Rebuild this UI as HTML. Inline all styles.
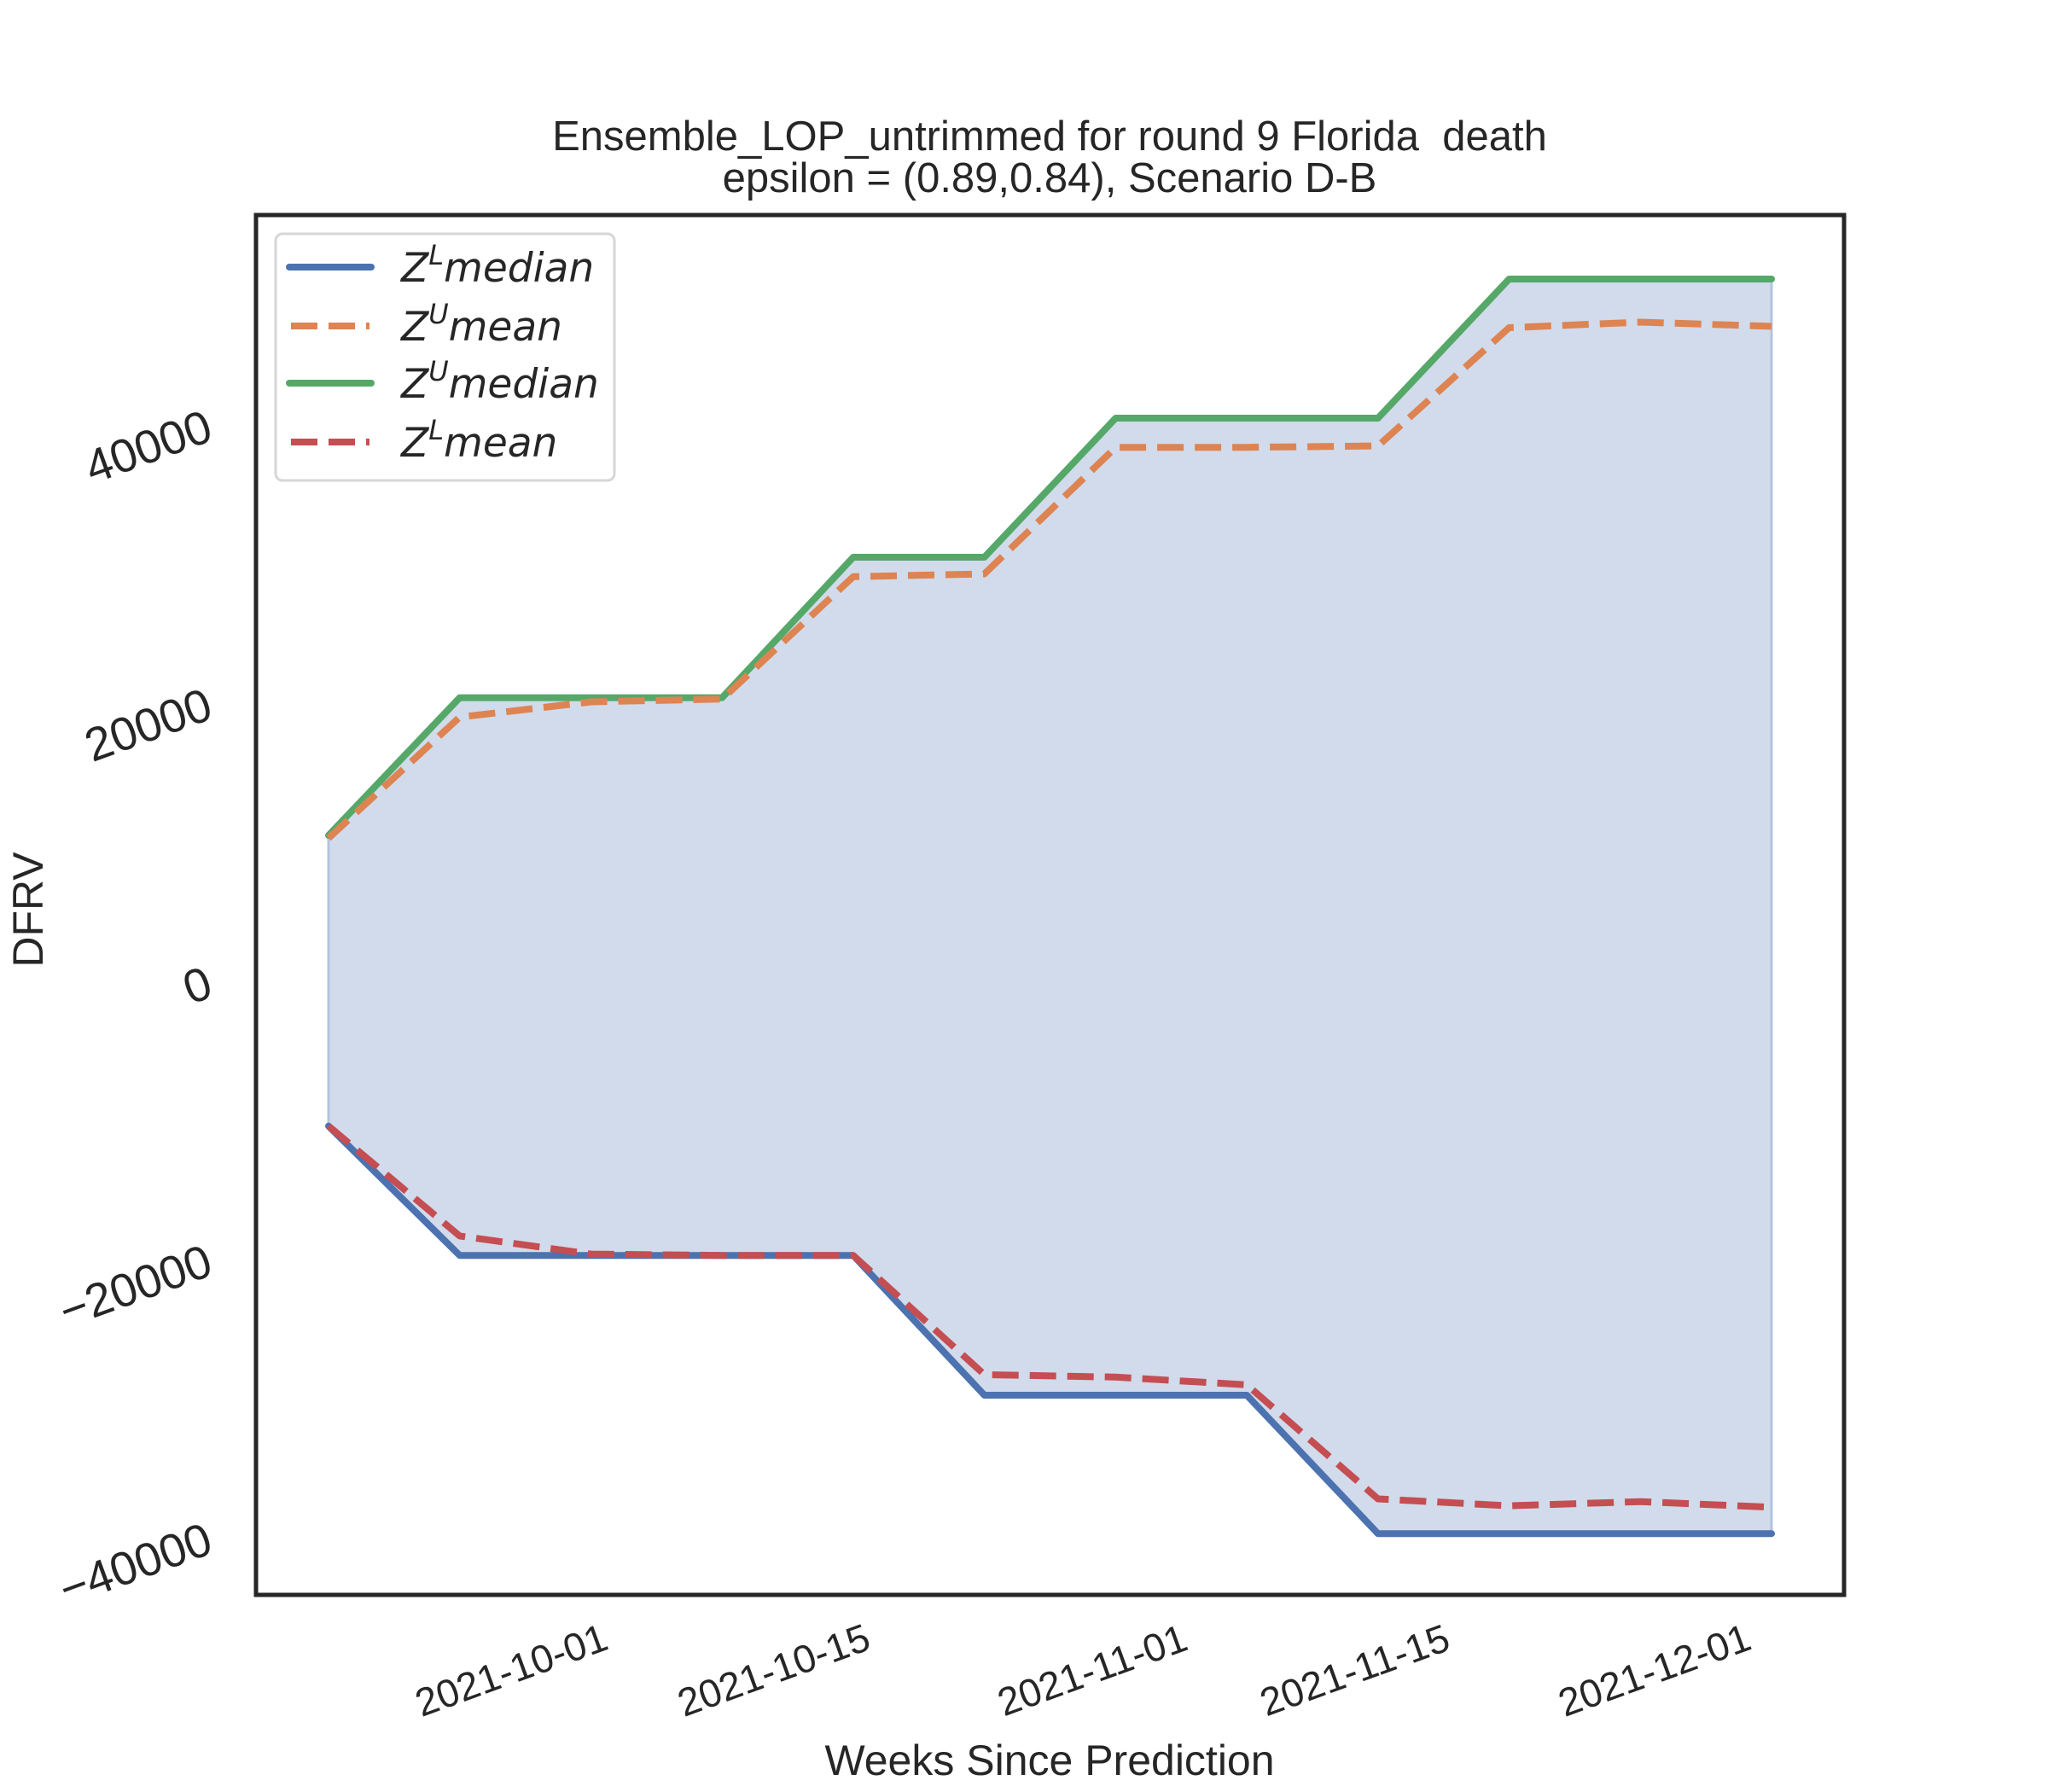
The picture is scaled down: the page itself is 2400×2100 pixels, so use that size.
<!DOCTYPE html>
<html><head><meta charset="utf-8"><style>
html,body{margin:0;padding:0;background:#fff;}
svg{display:block;}
text{font-family:"Liberation Sans",sans-serif;fill:#262626;white-space:pre;}
.lg{font-family:"DejaVu Sans",sans-serif;font-style:italic;font-size:47px;fill:#262626;}
</style></head><body>
<svg id="chart" width="2400" height="2100" viewBox="0 0 2400 2100" xmlns="http://www.w3.org/2000/svg">
<rect x="0" y="0" width="2400" height="2100" fill="#fff"/>
<text x="1230" y="176" font-size="49" text-anchor="middle" xml:space="preserve">Ensemble_LOP_untrimmed for round 9 Florida  death</text>
<text x="1230" y="225" font-size="49" text-anchor="middle">epsilon = (0.89,0.84), Scenario D-B</text>
<g id="plot"></g>
<g id="axes"></g>
<rect x="300" y="252" width="1861" height="1617" fill="none" stroke="#262626" stroke-width="5"/>
<text x="1230" y="2080" font-size="50" text-anchor="middle">Weeks Since Prediction</text>
<text transform="translate(50,1066) rotate(-90)" font-size="50" text-anchor="middle">DFRV</text>
<g>
<rect x="323" y="274" width="397" height="289" rx="8" fill="#fff" stroke="#d6d6d6" stroke-width="3"/>
<g>
<line x1="339" y1="313" x2="435" y2="313" stroke="#4c72b0" stroke-width="8" stroke-linecap="round"/>
<text class="lg" x="470" y="330">Z<tspan font-size="32" dy="-20">L</tspan><tspan dy="20">median</tspan></text></g>
<g>
<line x1="341" y1="382" x2="433" y2="382" stroke="#dd8452" stroke-width="8" stroke-dasharray="31,13"/>
<text class="lg" x="470" y="399">Z<tspan font-size="32" dy="-20">U</tspan><tspan dy="20">mean</tspan></text></g>
<g>
<line x1="339" y1="449" x2="435" y2="449" stroke="#55a868" stroke-width="8" stroke-linecap="round"/>
<text class="lg" x="470" y="466">Z<tspan font-size="32" dy="-20">U</tspan><tspan dy="20">median</tspan></text></g>
<g>
<line x1="341" y1="518" x2="433" y2="518" stroke="#c44e52" stroke-width="8" stroke-dasharray="31,13"/>
<text class="lg" x="470" y="535">Z<tspan font-size="32" dy="-20">L</tspan><tspan dy="20">mean</tspan></text></g>
</g>
</svg>
<script>
// days relative to 2021-10-01
const dayOffsets = [-10,-3,4,11,18,25,32,39,46,53,60,67];
const upperMedian = [10800,20700,20700,20700,30800,30800,40800,40800,40800,50800,50800,50800];
const upperMean   = [10600,19300,20400,20600,29400,29600,38700,38700,38800,47300,47700,47400];
const lowerMedian = [-10100,-19400,-19400,-19400,-19400,-29450,-29450,-29450,-39400,-39400,-39400,-39400];
const lowerMean   = [-10100,-18000,-19300,-19400,-19400,-27970,-28150,-28700,-36900,-37400,-37100,-37500];
const yTicks = [-40000,-20000,0,20000,40000];
const yTickLabels = ["\u221240000","\u221220000","0","20000","40000"];
const xTickDays = [0,14,31,45,61];
const xTickLabels = ["2021-10-01","2021-10-15","2021-11-01","2021-11-15","2021-12-01"];

const NS="http://www.w3.org/2000/svg";
function xs(d){return 385 + (d+10)*(2076-385)/77;}
function ys(v){return 1155 - v*0.0163;}
const plot=document.getElementById('plot');
const axes=document.getElementById('axes');
function pts(arr){return arr.map((v,i)=>xs(dayOffsets[i]).toFixed(1)+','+ys(v).toFixed(1));}

const fill=document.createElementNS(NS,'polygon');
fill.setAttribute('points',pts(upperMedian).concat(pts(lowerMedian).reverse()).join(' '));
fill.setAttribute('fill','#d1dbeb');
fill.setAttribute('stroke','#b3c4e0');
fill.setAttribute('stroke-width','3');


plot.appendChild(fill);

function line(arr,color,dash,name){
  const p=document.createElementNS(NS,'polyline');
  p.setAttribute('points',pts(arr).join(' '));
  p.setAttribute('fill','none');
  p.setAttribute('stroke',color);
  p.setAttribute('stroke-width','8');
  p.setAttribute('stroke-linejoin','round');
  if(dash){p.setAttribute('stroke-dasharray','31,13');}else{p.setAttribute('stroke-linecap','round');}
  
  
  plot.appendChild(p);
}
line(lowerMedian,'#4c72b0',false,'line-zl-median');
line(upperMedian,'#55a868',false,'line-zu-median');
line(upperMean,'#dd8452',true,'line-zu-mean');
line(lowerMean,'#c44e52',true,'line-zl-mean');

yTicks.forEach((v,i)=>{
  const t=document.createElementNS(NS,'text');
  t.setAttribute('transform','translate(252,'+(ys(v)+12).toFixed(1)+') rotate(-20)');
  t.setAttribute('text-anchor','end');
  t.setAttribute('font-size','55');
  t.textContent=yTickLabels[i];
  
  
  axes.appendChild(t);
});
xTickDays.forEach((d,i)=>{
  const t=document.createElementNS(NS,'text');
  t.setAttribute('transform','translate('+xs(d).toFixed(1)+',1972) rotate(-20)');
  t.setAttribute('text-anchor','middle');
  t.setAttribute('font-size','46');
  t.textContent=xTickLabels[i];
  
  
  axes.appendChild(t);
});
</script>
</body></html>
